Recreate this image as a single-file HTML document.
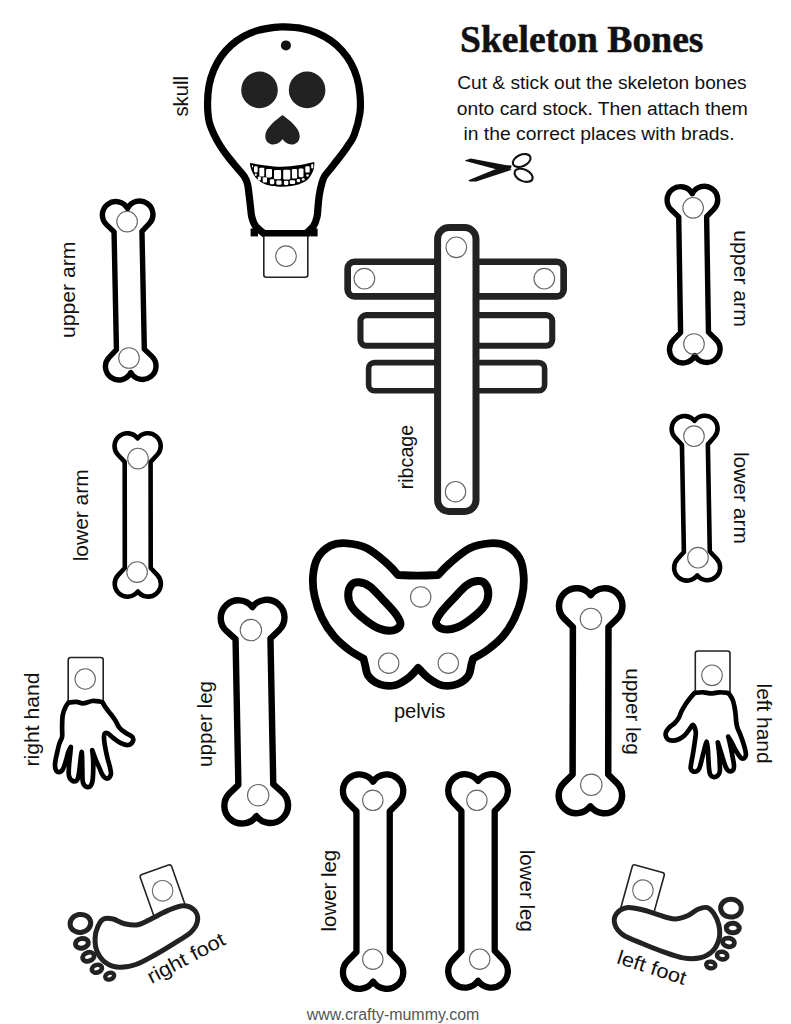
<!DOCTYPE html>
<html><head><meta charset="utf-8"><title>Skeleton Bones</title>
<style>
html,body{margin:0;padding:0;background:#fff;}
body{width:791px;height:1024px;overflow:hidden;}
svg{display:block;font-family:"Liberation Sans",sans-serif;}
</style></head>
<body>
<svg width="791" height="1024" viewBox="0 0 791 1024">
<rect width="791" height="1024" fill="#fff"/>
<text x="460" y="52" font-family="Liberation Serif" font-weight="bold" font-size="37" textLength="243.5" lengthAdjust="spacingAndGlyphs" fill="#111" stroke="#111" stroke-width="0.5">Skeleton Bones</text>
<g transform="translate(457.2,89) rotate(0)"><text x="0" y="0" textLength="289.5" lengthAdjust="spacingAndGlyphs" font-size="18" fill="#111">Cut &amp; stick out the skeleton bones</text></g>
<g transform="translate(456.8,114.6) rotate(0)"><text x="0" y="0" textLength="291" lengthAdjust="spacingAndGlyphs" font-size="18" fill="#111">onto card stock. Then attach them</text></g>
<g transform="translate(463.5,139.5) rotate(0)"><text x="0" y="0" textLength="271.1" lengthAdjust="spacingAndGlyphs" font-size="18" fill="#111">in the correct places with brads.</text></g>
<g fill="#111"><path d="M465.2,160.2 L470.8,158.6 L506.6,165.2 L511.6,165.4 L511,168.7 L496.1,169.2 L465.3,160.9 Z"/><path d="M468.4,180.3 L495.2,169.2 L507.5,167.8 L511.6,169.8 L506.6,171.6 L476.2,181.4 L469.6,181.4 Z"/></g><ellipse cx="521.7" cy="160.5" rx="9.4" ry="5.7" transform="rotate(-24 521.7 160.5)" fill="none" stroke="#111" stroke-width="2.1"/><ellipse cx="523.6" cy="175.3" rx="9.6" ry="5.8" transform="rotate(24 523.6 175.3)" fill="none" stroke="#111" stroke-width="2.1"/>
<path d="M283.94,26.97 C288.52,27.16 296.35,27.49 301.9,28.51 C307.46,29.53 312.47,31.08 317.28,33.08 C322.09,35.08 326.62,37.6 330.75,40.52 C334.88,43.44 338.7,46.86 342.04,50.61 C345.39,54.36 348.37,58.55 350.85,63.03 C353.32,67.51 355.36,72.34 356.88,77.47 C358.39,82.6 359.43,87.92 359.94,93.82 C360.46,99.72 360.9,106.02 359.94,112.88 C358.99,119.74 356.29,129.41 354.2,135 C352.11,140.59 349.92,142.6 347.4,146.4 C344.88,150.2 341.97,154.02 339.1,157.8 C336.23,161.58 332.67,165.95 330.2,169.1 C327.73,172.25 325.73,174.17 324.3,176.7 C322.87,179.23 322.43,181.25 321.6,184.3 C320.77,187.35 319.9,191.22 319.3,195 C318.7,198.78 318.38,203.33 318,207 C317.62,210.67 317.75,213.83 317,217 C316.25,220.17 315.33,223.25 313.5,226 C311.67,228.75 306,233.5 306,233.5 C306,233.5 264,233.5 264,233.5 C264,233.5 257.53,228.75 255.5,226 C253.47,223.25 252.63,220.17 251.8,217 C250.97,213.83 250.95,210.67 250.5,207 C250.05,203.33 249.58,198.78 249.1,195 C248.62,191.22 248.38,187.35 247.6,184.3 C246.82,181.25 245.97,179.23 244.4,176.7 C242.83,174.17 240.8,172.25 238.2,169.1 C235.6,165.95 231.73,161.58 228.8,157.8 C225.87,154.02 223.02,150.2 220.6,146.4 C218.18,142.6 216.22,139.18 214.3,135 C212.38,130.82 210.21,126.58 209.09,121.31 C207.96,116.03 207.55,109.34 207.55,103.35 C207.55,97.36 208.07,90.95 209.09,85.39 C210.11,79.83 211.66,74.82 213.66,70.02 C215.66,65.21 218.18,60.67 221.1,56.55 C224.03,52.42 227.44,48.6 231.19,45.25 C234.94,41.9 239.14,38.93 243.61,36.45 C248.09,33.98 252.93,31.94 258.06,30.42 C263.19,28.91 270.1,27.93 274.41,27.36 C278.72,26.78 279.36,26.78 283.94,26.97 Z" fill="#fff" stroke="#000" stroke-width="7.2" stroke-linejoin="round"/>
<rect x="250.6" y="228.5" width="7.4" height="7.9" fill="#000"/><rect x="310.2" y="228.5" width="7.4" height="7.9" fill="#000"/>
<rect x="263.8" y="233" width="44" height="44.2" rx="2.5" fill="#fff" stroke="#222" stroke-width="1.6"/>
<path d="M262,233.5 L310,233.5" stroke="#000" stroke-width="5.8"/>
<circle cx="286" cy="256.2" r="10.3" fill="none" stroke="#666" stroke-width="1.1"/>
<circle cx="285.9" cy="45.4" r="5" fill="#111"/>
<circle cx="259.5" cy="89.9" r="18.3" fill="#222"/>
<circle cx="307.1" cy="89.9" r="18.3" fill="#222"/>
<path d="M282.5,115 C276,120 265.5,127.5 265.3,136 C265.2,142 269.5,144.6 273.5,144.5 C277,144.4 281,142 282.5,139 C284,142 288,144.4 291.5,144.5 C295.5,144.6 299.8,142 299.7,136 C299.5,127.5 289,120 282.5,115 Z" fill="#222"/>
<path d="M250,163 C250,163 260.67,164.87 266,165.5 C271.33,166.13 276.67,166.83 282,166.8 C287.33,166.77 292.62,166.1 298,165.3 C303.38,164.5 314.3,162 314.3,162 C314.3,162 314.43,166.32 313.9,168.5 C313.37,170.68 312.32,173.08 311.1,175.1 C309.88,177.12 308.57,179.08 306.6,180.6 C304.63,182.12 301.88,183.3 299.3,184.2 C296.72,185.1 293.98,185.57 291.1,186 C288.22,186.43 285.18,186.8 282,186.8 C278.82,186.8 275.17,186.6 272,186 C268.83,185.4 265.58,184.45 263,183.2 C260.42,181.95 258.25,180.28 256.5,178.5 C254.75,176.72 253.5,174.42 252.5,172.5 C251.5,170.58 250.92,168.58 250.5,167 C250.08,165.42 250,163 250,163 Z" fill="#000"/>
<rect x="252" y="164.9" width="1.1" height="2.7" rx="1.1" fill="#fff"/>
<rect x="254" y="166.3" width="3.7" height="6.1" rx="1.1" fill="#fff"/>
<rect x="259.3" y="167.7" width="5" height="8.8" rx="1.1" fill="#fff"/>
<rect x="266.1" y="169" width="5.9" height="8.4" rx="1.1" fill="#fff"/>
<rect x="274" y="169.9" width="7.1" height="9.3" rx="1.1" fill="#fff"/>
<rect x="283.2" y="169.8" width="7.1" height="9.7" rx="1.1" fill="#fff"/>
<rect x="291.9" y="169.1" width="5.2" height="9.5" rx="1.1" fill="#fff"/>
<rect x="298.7" y="168.4" width="4.8" height="8.8" rx="1.1" fill="#fff"/>
<rect x="305.3" y="166.3" width="4.4" height="6.3" rx="1.1" fill="#fff"/>
<rect x="311.2" y="164.1" width="2.1" height="4.4" rx="1.1" fill="#fff"/>
<rect x="254.9" y="173.6" width="1.9" height="2.4" rx="1.1" fill="#fff"/>
<rect x="257.9" y="176.5" width="3" height="4.1" rx="1.1" fill="#fff"/>
<rect x="262.7" y="177.2" width="4.3" height="5.4" rx="1.1" fill="#fff"/>
<rect x="269.9" y="179.3" width="4.4" height="4.9" rx="1.1" fill="#fff"/>
<rect x="276.3" y="180.6" width="5.3" height="4.1" rx="1.1" fill="#fff"/>
<rect x="283.9" y="180.7" width="4.4" height="4.2" rx="1.1" fill="#fff"/>
<rect x="289.8" y="180.2" width="5.3" height="3.8" rx="1.1" fill="#fff"/>
<rect x="296.7" y="178.9" width="3.4" height="3.3" rx="1.1" fill="#fff"/>
<rect x="301.7" y="178.2" width="3" height="2.4" rx="1.1" fill="#fff"/>
<rect x="306.2" y="174.3" width="2.6" height="2.4" rx="1.1" fill="#fff"/>
<path transform="translate(127.35,198.6) rotate(-1.15)" d="M-13.95,33 L-21.37,25.58 A13.4,13.4 0 1 1 0,9.94 A13.4,13.4 0 1 1 21.37,25.58 L13.95,33 L13.95,150.84 L21.37,158.26 A13.4,13.4 0 1 1 0,173.9 A13.4,13.4 0 1 1 -21.37,158.26 L-13.95,150.84 Z" fill="#fff" stroke="#000" stroke-width="5.4" stroke-linejoin="round"/>
<circle cx="127.1" cy="221.6" r="10.3" fill="none" stroke="#666" stroke-width="1.1"/>
<circle cx="129" cy="358" r="10.3" fill="none" stroke="#666" stroke-width="1.1"/>
<path transform="translate(692.15,183.8) rotate(-0.91)" d="M-13.95,33 L-21.37,25.58 A13.4,13.4 0 1 1 0,9.94 A13.4,13.4 0 1 1 21.37,25.58 L13.95,33 L13.95,148.62 L21.37,156.05 A13.4,13.4 0 1 1 0,171.68 A13.4,13.4 0 1 1 -21.37,156.05 L-13.95,148.62 Z" fill="#fff" stroke="#000" stroke-width="5.4" stroke-linejoin="round"/>
<circle cx="693.1" cy="207.8" r="10.3" fill="none" stroke="#666" stroke-width="1.1"/>
<circle cx="694" cy="344" r="10.3" fill="none" stroke="#666" stroke-width="1.1"/>
<path transform="translate(137.6,430.9) rotate(-0.07)" d="M-12.95,31 L-19.65,23.85 A12.8,12.8 0 1 1 0,7.5 A12.8,12.8 0 1 1 19.65,23.85 L12.95,31 L12.95,137.1 L19.65,144.25 A12.8,12.8 0 1 1 0,160.6 A12.8,12.8 0 1 1 -19.65,144.25 L-12.95,137.1 Z" fill="#fff" stroke="#000" stroke-width="4.6" stroke-linejoin="round"/>
<circle cx="138" cy="458.6" r="10.3" fill="none" stroke="#666" stroke-width="1.1"/>
<circle cx="137.1" cy="572.1" r="10.3" fill="none" stroke="#666" stroke-width="1.1"/>
<path transform="translate(694.35,413.6) rotate(-1.03)" d="M-12.95,31 L-19.59,23.74 A12.8,12.8 0 1 1 0,7.3 A12.8,12.8 0 1 1 19.59,23.74 L12.95,31 L12.95,138.13 L19.59,145.39 A12.8,12.8 0 1 1 0,161.83 A12.8,12.8 0 1 1 -19.59,145.39 L-12.95,138.13 Z" fill="#fff" stroke="#000" stroke-width="4.6" stroke-linejoin="round"/>
<circle cx="694" cy="436.2" r="10.3" fill="none" stroke="#666" stroke-width="1.1"/>
<circle cx="698" cy="557.7" r="10.3" fill="none" stroke="#666" stroke-width="1.1"/>
<path transform="translate(252.2,596.8) rotate(-1.1)" d="M-17.45,42 L-26.22,33.9 A17.7,17.7 0 1 1 0,10.33 A17.7,17.7 0 1 1 26.22,33.9 L17.45,42 L17.45,187.74 L26.22,195.84 A17.7,17.7 0 1 1 0,219.41 A17.7,17.7 0 1 1 -26.22,195.84 L-17.45,187.74 Z" fill="#fff" stroke="#000" stroke-width="6.4" stroke-linejoin="round"/>
<circle cx="250.9" cy="630.1" r="10.7" fill="none" stroke="#666" stroke-width="1.1"/>
<circle cx="258.2" cy="795.2" r="10.7" fill="none" stroke="#666" stroke-width="1.1"/>
<path transform="translate(590.75,585) rotate(0.1)" d="M-17.8,42 L-26.4,33.63 A17.7,17.7 0 1 1 0,10.18 A17.7,17.7 0 1 1 26.4,33.63 L17.8,42 L17.8,189.5 L26.4,197.87 A17.7,17.7 0 1 1 0,221.32 A17.7,17.7 0 1 1 -26.4,197.87 L-17.8,189.5 Z" fill="#fff" stroke="#000" stroke-width="6.5" stroke-linejoin="round"/>
<circle cx="590.9" cy="618.9" r="10.7" fill="none" stroke="#666" stroke-width="1.1"/>
<circle cx="591.3" cy="784.8" r="10.7" fill="none" stroke="#666" stroke-width="1.1"/>
<path transform="translate(373.1,771.3) rotate(-0)" d="M-16.65,40 L-25.34,31.34 A16.5,16.5 0 1 1 0,10.45 A16.5,16.5 0 1 1 25.34,31.34 L16.65,40 L16.65,180.7 L25.34,189.36 A16.5,16.5 0 1 1 0,210.25 A16.5,16.5 0 1 1 -25.34,189.36 L-16.65,180.7 Z" fill="#fff" stroke="#000" stroke-width="6.3" stroke-linejoin="round"/>
<circle cx="372.8" cy="800.3" r="10.2" fill="none" stroke="#666" stroke-width="1.1"/>
<circle cx="372.8" cy="959.2" r="10.2" fill="none" stroke="#666" stroke-width="1.1"/>
<path transform="translate(478.05,771) rotate(-0)" d="M-16.65,40 L-25.23,31.1 A16.5,16.5 0 1 1 0,9.95 A16.5,16.5 0 1 1 25.23,31.1 L16.65,40 L16.65,179.8 L25.23,188.7 A16.5,16.5 0 1 1 0,209.85 A16.5,16.5 0 1 1 -25.23,188.7 L-16.65,179.8 Z" fill="#fff" stroke="#000" stroke-width="6.3" stroke-linejoin="round"/>
<circle cx="476.9" cy="800.3" r="10.2" fill="none" stroke="#666" stroke-width="1.1"/>
<circle cx="479.7" cy="959.2" r="10.2" fill="none" stroke="#666" stroke-width="1.1"/>
<rect x="347.65" y="261.75" width="216" height="34.7" rx="7" fill="#fff" stroke="#222" stroke-width="6.7"/>
<rect x="360.45" y="315.15" width="191.8" height="30.6" rx="6" fill="#fff" stroke="#222" stroke-width="6.1"/>
<rect x="368.6" y="362.6" width="176" height="28.2" rx="5.8" fill="#fff" stroke="#222" stroke-width="5.6"/>
<rect x="437.6" y="227.5" width="38.4" height="284" rx="11.5" fill="#fff" stroke="#222" stroke-width="7"/>
<circle cx="456.3" cy="247.3" r="10.3" fill="none" stroke="#666" stroke-width="1.1"/>
<circle cx="364.4" cy="278.7" r="10.3" fill="none" stroke="#666" stroke-width="1.1"/>
<circle cx="544.3" cy="278.7" r="10.3" fill="none" stroke="#666" stroke-width="1.1"/>
<circle cx="455.5" cy="491.7" r="10.2" fill="none" stroke="#666" stroke-width="1.1"/>
<path d="M398,575 C398,575 411.3,575.6 418,575.6 C424.7,575.6 438.2,575 438.2,575 C438.2,575 444.55,567.65 449.8,563.2 C455.05,558.75 463.05,551.62 469.7,548.3 C476.35,544.98 483.6,543.72 489.7,543.3 C495.8,542.88 501.33,543.32 506.3,545.8 C511.27,548.28 516.6,553.08 519.5,558.2 C522.4,563.32 523.28,570.13 523.7,576.5 C524.12,582.87 523.52,589.48 522,596.4 C520.48,603.32 517.78,611.35 514.6,618 C511.42,624.65 507.33,631.05 502.9,636.3 C498.47,641.55 492.98,645.77 488,649.5 C483.02,653.23 473,658.7 473,658.7 C473,658.7 472.22,661.6 471.4,664.5 C470.58,667.4 470.58,672.78 468.1,676.1 C465.62,679.42 460.93,682.88 456.5,684.4 C452.07,685.92 446.22,686.3 441.5,685.2 C436.78,684.1 432.08,680.7 428.2,677.8 C424.32,674.9 418.2,667.8 418.2,667.8 C418.2,667.8 412.37,674.9 408.5,677.8 C404.63,680.7 399.75,684.1 395,685.2 C390.25,686.3 384.42,685.92 380,684.4 C375.58,682.88 371,679.42 368.5,676.1 C366,672.78 365.82,667.4 365,664.5 C364.18,661.6 363.6,658.7 363.6,658.7 C363.6,658.7 353.43,653.23 348.5,649.5 C343.57,645.77 338.42,641.55 334,636.3 C329.58,631.05 325.23,624.65 322,618 C318.77,611.35 316.1,603.32 314.6,596.4 C313.1,589.48 312.52,582.87 313,576.5 C313.48,570.13 314.58,563.32 317.5,558.2 C320.42,553.08 325.58,548.28 330.5,545.8 C335.42,543.32 340.92,542.88 347,543.3 C353.08,543.72 360.37,544.98 367,548.3 C373.63,551.62 381.63,558.75 386.8,563.2 C391.97,567.65 398,575 398,575 Z" fill="#fff" stroke="#000" stroke-width="7.8" stroke-linejoin="round"/>
<path d="M359,582.3 C362.05,582.57 365.8,583.5 369.8,586.4 C373.8,589.3 378.58,594.98 383,599.7 C387.42,604.42 393.4,610.55 396.3,614.7 C399.2,618.85 400.95,621.98 400.4,624.6 C399.85,627.22 396.45,629.7 393,630.4 C389.55,631.1 384.4,630.6 379.7,628.8 C375,627 369.5,623.33 364.8,619.6 C360.1,615.87 354.27,610.53 351.5,606.4 C348.73,602.27 348.2,598.4 348.2,594.8 C348.2,591.2 349.7,586.88 351.5,584.8 C353.3,582.72 355.95,582.03 359,582.3 Z" fill="#fff" stroke="#000" stroke-width="8" stroke-linejoin="round"/>
<path d="M477.5,581.1 C474.45,581.37 470.7,582.3 466.7,585.2 C462.7,588.1 457.92,593.78 453.5,598.5 C449.08,603.22 443.1,609.35 440.2,613.5 C437.3,617.65 435.55,620.78 436.1,623.4 C436.65,626.02 440.05,628.5 443.5,629.2 C446.95,629.9 452.1,629.4 456.8,627.6 C461.5,625.8 467,622.13 471.7,618.4 C476.4,614.67 482.23,609.33 485,605.2 C487.77,601.07 488.3,597.2 488.3,593.6 C488.3,590 486.8,585.68 485,583.6 C483.2,581.52 480.55,580.83 477.5,581.1 Z" fill="#fff" stroke="#000" stroke-width="8" stroke-linejoin="round"/>
<circle cx="420.7" cy="596.9" r="10.2" fill="none" stroke="#666" stroke-width="1.1"/>
<circle cx="388.7" cy="663.2" r="10.2" fill="none" stroke="#666" stroke-width="1.1"/>
<circle cx="448.3" cy="663.2" r="10.2" fill="none" stroke="#666" stroke-width="1.1"/>
<rect x="68.2" y="657.5" width="35" height="46" rx="2.5" fill="#fff" stroke="#222" stroke-width="1.6"/>
<path d="M68.4,702.6 C68.4,702.6 66.15,705.58 65.2,707.7 C64.25,709.82 63.22,712.13 62.7,715.3 C62.18,718.47 62.2,723.12 62.1,726.7 C62,730.28 62.53,734.07 62.1,736.8 C61.67,739.53 60.35,740.37 59.5,743.1 C58.65,745.83 57.73,749.83 57,753.2 C56.27,756.57 55.32,760.57 55.1,763.3 C54.88,766.03 55.07,768.12 55.7,769.6 C56.33,771.08 57.73,772.2 58.9,772.2 C60.07,772.2 61.53,771.5 62.7,769.6 C63.87,767.7 64.95,763.75 65.9,760.8 C66.85,757.85 67.57,754.22 68.4,751.9 C69.23,749.58 70.9,746.9 70.9,746.9 C70.9,746.9 70.62,750.03 70.3,753.2 C69.98,756.37 69.22,762.1 69,765.9 C68.78,769.7 68.37,773.48 69,776 C69.63,778.52 71.43,780.37 72.8,781 C74.17,781.63 76.15,781.27 77.2,779.8 C78.25,778.33 78.47,776.22 79.1,772.2 C79.73,768.18 80.57,759.08 81,755.7 C81.43,752.32 81.7,751.9 81.7,751.9 C81.7,751.9 81.98,753.62 82.1,757 C82.22,760.38 82.27,767.98 82.4,772.2 C82.53,776.42 82.2,779.85 82.9,782.3 C83.6,784.75 85.28,786.35 86.6,786.9 C87.92,787.45 89.77,787 90.8,785.6 C91.83,784.2 92.4,782.63 92.8,778.5 C93.2,774.37 93.3,765.53 93.2,760.8 C93.1,756.07 92.2,750.1 92.2,750.1 C92.2,750.1 93.97,755.25 95.2,758.3 C96.43,761.35 98.27,765.45 99.6,768.4 C100.93,771.35 101.88,774.32 103.2,776 C104.52,777.68 106.23,778.72 107.5,778.5 C108.77,778.28 110.35,776.38 110.8,774.7 C111.25,773.02 110.8,771.35 110.2,768.4 C109.6,765.45 108.08,760.8 107.2,757 C106.32,753.2 105.43,748.77 104.9,745.6 C104.37,742.43 104.05,740 104,738 C103.95,736 104.02,734.4 104.6,733.6 C105.18,732.8 106.05,732.47 107.5,733.2 C108.95,733.93 111.07,736.35 113.3,738 C115.53,739.65 118.38,741.93 120.9,743.1 C123.42,744.27 126.4,745.32 128.4,745 C130.4,744.68 132.27,742.57 132.9,741.2 C133.53,739.83 133.37,738.17 132.2,736.8 C131.03,735.43 128,734.48 125.9,733 C123.8,731.52 121.38,730.02 119.6,727.9 C117.82,725.78 116.68,722.62 115.2,720.3 C113.72,717.98 112.28,716.1 110.7,714 C109.12,711.9 107.02,709.6 105.7,707.7 C104.38,705.8 102.8,702.6 102.8,702.6 C102.8,702.6 101.37,701.77 99.6,701.5 C97.83,701.23 94.98,700.7 92.2,701 C89.42,701.3 85.53,703.17 82.9,703.3 C80.27,703.43 78.82,701.92 76.4,701.8 C73.98,701.68 68.4,702.6 68.4,702.6 Z" fill="#fff" stroke="#000" stroke-width="4.7" stroke-linejoin="round"/>
<circle cx="85.2" cy="679" r="10.2" fill="none" stroke="#666" stroke-width="1.1"/>
<rect x="695.3" y="651" width="34.7" height="44" rx="2.5" fill="#fff" stroke="#222" stroke-width="1.6"/>
<path d="M694.7,692.84 C694.7,692.84 691.66,696.07 690.15,697.96 C688.63,699.86 687.02,702.04 685.6,704.22 C684.18,706.4 682.75,708.77 681.62,711.05 C680.48,713.32 679.91,715.88 678.77,717.87 C677.63,719.86 676.4,721.38 674.79,722.99 C673.18,724.6 670.52,726.12 669.1,727.54 C667.68,728.96 666.83,730.2 666.26,731.52 C665.69,732.85 665.4,734.18 665.69,735.51 C665.97,736.83 666.83,738.63 667.96,739.49 C669.1,740.34 670.81,740.63 672.51,740.63 C674.22,740.63 676.21,740.34 678.2,739.49 C680.19,738.63 682.66,737.12 684.46,735.51 C686.26,733.89 687.78,731.43 689.01,729.82 C690.24,728.21 691.15,726.63 691.85,725.84 C692.56,725.04 692.75,724.76 693.22,725.04 C693.69,725.32 694.26,726.18 694.7,727.54 C695.13,728.91 695.84,730.77 695.84,733.23 C695.84,735.7 695.17,738.92 694.7,742.33 C694.22,745.75 693.56,750.3 692.99,753.71 C692.42,757.12 691.66,760.35 691.29,762.81 C690.91,765.27 690.43,767.08 690.72,768.5 C691,769.92 692.04,770.87 692.99,771.34 C693.94,771.82 695.36,771.82 696.41,771.34 C697.45,770.87 698.4,770.3 699.25,768.5 C700.1,766.7 700.77,763.38 701.52,760.53 C702.28,757.69 703.14,754.09 703.8,751.43 C704.46,748.78 705.03,746.22 705.51,744.61 C705.98,743 706.64,741.76 706.64,741.76 C706.64,741.76 707.5,745.27 707.78,748.02 C708.07,750.77 708.16,755.04 708.35,758.26 C708.54,761.48 708.63,764.71 708.92,767.36 C709.2,770.02 709.3,772.57 710.06,774.19 C710.82,775.8 712.24,776.75 713.47,777.03 C714.7,777.32 716.41,776.75 717.45,775.89 C718.49,775.04 719.35,774.09 719.73,771.91 C720.11,769.73 719.82,765.84 719.73,762.81 C719.63,759.78 719.4,756.55 719.16,753.71 C718.91,750.86 718.48,747.64 718.25,745.75 C718.02,743.85 717.79,742.33 717.79,742.33 C717.79,742.33 719.4,747.45 720.3,750.3 C721.19,753.14 722.29,756.74 723.14,759.4 C723.99,762.05 724.66,764.42 725.42,766.22 C726.17,768.02 726.84,769.35 727.69,770.2 C728.54,771.06 729.59,771.44 730.53,771.34 C731.48,771.25 732.81,770.68 733.38,769.64 C733.95,768.59 734.04,766.98 733.95,765.09 C733.85,763.19 733.28,760.91 732.81,758.26 C732.34,755.6 731.67,752 731.1,749.16 C730.53,746.31 729.87,743.28 729.4,741.19 C728.92,739.11 728.26,736.64 728.26,736.64 C728.26,736.64 730.53,740.25 731.67,742.33 C732.81,744.42 733.95,747.07 735.09,749.16 C736.22,751.24 737.46,753.33 738.5,754.85 C739.54,756.36 740.39,757.69 741.34,758.26 C742.29,758.83 743.43,758.73 744.19,758.26 C744.95,757.79 745.7,756.74 745.89,755.42 C746.08,754.09 745.8,752.48 745.32,750.3 C744.85,748.12 743.9,744.99 743.05,742.33 C742.2,739.68 741.15,736.83 740.2,734.37 C739.26,731.9 738.02,729.63 737.36,727.54 C736.7,725.46 736.51,723.94 736.22,721.85 C735.94,719.77 735.94,717.49 735.65,715.03 C735.37,712.56 734.99,709.53 734.52,707.06 C734.04,704.6 733.57,702.23 732.81,700.24 C732.05,698.25 730.88,696.35 729.97,695.12 C729.06,693.89 727.35,692.84 727.35,692.84 C727.35,692.84 721.85,692.18 719.16,692.28 C716.47,692.37 713.85,693.41 711.19,693.41 C708.54,693.41 705.98,692.37 703.23,692.28 C700.48,692.18 694.7,692.84 694.7,692.84 Z" fill="#fff" stroke="#000" stroke-width="4.7" stroke-linejoin="round"/>
<circle cx="712" cy="675.3" r="10.3" fill="none" stroke="#666" stroke-width="1.1"/>
<g transform="translate(162.6,890.8) rotate(-19.5)"><rect x="-16.6" y="-22.3" width="33.2" height="52" rx="2.5" fill="#fff" stroke="#222" stroke-width="1.6"/><circle cx="0" cy="0" r="10.3" fill="none" stroke="#666" stroke-width="1.1"/></g>
<path d="M97.9,926.5 C96.48,929.65 95.25,933.78 95.1,937.9 C94.95,942.02 95.27,947.08 97,951.2 C98.73,955.32 101.87,959.92 105.5,962.6 C109.13,965.28 113.73,966.98 118.8,967.3 C123.87,967.62 129.9,966.55 135.9,964.5 C141.9,962.45 148.48,958.48 154.8,955 C161.12,951.52 167.78,947.4 173.8,943.6 C179.82,939.8 186.95,935.98 190.9,932.2 C194.85,928.42 196.88,924.53 197.5,920.9 C198.12,917.27 196.97,912.93 194.6,910.4 C192.23,907.87 187.72,905.7 183.3,905.7 C178.88,905.7 173.17,908.35 168.1,910.4 C163.03,912.45 157.95,915.62 152.9,918 C147.85,920.38 142.53,923.75 137.8,924.7 C133.07,925.65 128.62,924.65 124.5,923.7 C120.38,922.75 116.58,919.78 113.1,919 C109.62,918.22 106.13,917.75 103.6,919 C101.07,920.25 99.32,923.35 97.9,926.5 Z" fill="#fff" stroke="#222" stroke-width="5" stroke-linejoin="round"/><ellipse cx="80.4" cy="923.4" rx="10.35" ry="8.95" transform="rotate(-10 80.4 923.4)" fill="none" stroke="#222" stroke-width="5"/><ellipse cx="81.9" cy="943.3" rx="6.5" ry="4.8" transform="rotate(-12 81.9 943.3)" fill="none" stroke="#222" stroke-width="5"/><ellipse cx="88.4" cy="956.8" rx="5.9" ry="4.3" transform="rotate(-20 88.4 956.8)" fill="none" stroke="#222" stroke-width="4.8"/><ellipse cx="96.9" cy="968.7" rx="5.2" ry="3.8" transform="rotate(-20 96.9 968.7)" fill="none" stroke="#222" stroke-width="4.6"/><ellipse cx="109.7" cy="976.1" rx="4.6" ry="3.3" transform="rotate(-20 109.7 976.1)" fill="none" stroke="#222" stroke-width="4.4"/>
<g transform="translate(642.9,890.2) rotate(15.5)"><rect x="-16.6" y="-22.3" width="33.2" height="52" rx="2.5" fill="#fff" stroke="#222" stroke-width="1.6"/><circle cx="0" cy="0" r="10.3" fill="none" stroke="#666" stroke-width="1.1"/></g>
<g transform="translate(668.5,932.4) rotate(-9.5) scale(-1,1) translate(-146,-937)"><path d="M97.9,926.5 C96.48,929.65 95.25,933.78 95.1,937.9 C94.95,942.02 95.27,947.08 97,951.2 C98.73,955.32 101.87,959.92 105.5,962.6 C109.13,965.28 113.73,966.98 118.8,967.3 C123.87,967.62 129.9,966.55 135.9,964.5 C141.9,962.45 148.48,958.48 154.8,955 C161.12,951.52 167.78,947.4 173.8,943.6 C179.82,939.8 186.95,935.98 190.9,932.2 C194.85,928.42 196.88,924.53 197.5,920.9 C198.12,917.27 196.97,912.93 194.6,910.4 C192.23,907.87 187.72,905.7 183.3,905.7 C178.88,905.7 173.17,908.35 168.1,910.4 C163.03,912.45 157.95,915.62 152.9,918 C147.85,920.38 142.53,923.75 137.8,924.7 C133.07,925.65 128.62,924.65 124.5,923.7 C120.38,922.75 116.58,919.78 113.1,919 C109.62,918.22 106.13,917.75 103.6,919 C101.07,920.25 99.32,923.35 97.9,926.5 Z" fill="#fff" stroke="#222" stroke-width="5" stroke-linejoin="round"/><ellipse cx="80.4" cy="923.4" rx="10.35" ry="8.95" transform="rotate(-10 80.4 923.4)" fill="none" stroke="#222" stroke-width="5"/><ellipse cx="81.9" cy="943.3" rx="6.5" ry="4.8" transform="rotate(-12 81.9 943.3)" fill="none" stroke="#222" stroke-width="5"/><ellipse cx="88.4" cy="956.8" rx="5.9" ry="4.3" transform="rotate(-20 88.4 956.8)" fill="none" stroke="#222" stroke-width="4.8"/><ellipse cx="96.9" cy="968.7" rx="5.2" ry="3.8" transform="rotate(-20 96.9 968.7)" fill="none" stroke="#222" stroke-width="4.6"/><ellipse cx="109.7" cy="976.1" rx="4.6" ry="3.3" transform="rotate(-20 109.7 976.1)" fill="none" stroke="#222" stroke-width="4.4"/></g>
<g transform="translate(188.2,116.5) rotate(-90)"><text x="0" y="0" textLength="40.5" lengthAdjust="spacingAndGlyphs" font-size="20" fill="#111">skull</text></g>
<g transform="translate(75.4,338) rotate(-90)"><text x="0" y="0" textLength="96.5" lengthAdjust="spacingAndGlyphs" font-size="20" fill="#111">upper arm</text></g>
<g transform="translate(734.2,230.3) rotate(90)"><text x="0" y="0" textLength="96.5" lengthAdjust="spacingAndGlyphs" font-size="20" fill="#111">upper arm</text></g>
<g transform="translate(87.5,561.3) rotate(-90)"><text x="0" y="0" textLength="92" lengthAdjust="spacingAndGlyphs" font-size="20" fill="#111">lower arm</text></g>
<g transform="translate(733.6,451.9) rotate(90)"><text x="0" y="0" textLength="92" lengthAdjust="spacingAndGlyphs" font-size="20" fill="#111">lower arm</text></g>
<g transform="translate(413.2,489.3) rotate(-90)"><text x="0" y="0" textLength="64.5" lengthAdjust="spacingAndGlyphs" font-size="20" fill="#111">ribcage</text></g>
<g transform="translate(393.9,717.8) rotate(0)"><text x="0" y="0" textLength="51.5" lengthAdjust="spacingAndGlyphs" font-size="20" fill="#111">pelvis</text></g>
<g transform="translate(38.7,766.5) rotate(-90)"><text x="0" y="0" textLength="94" lengthAdjust="spacingAndGlyphs" font-size="20" fill="#111">right hand</text></g>
<g transform="translate(757.1,683.5) rotate(90)"><text x="0" y="0" textLength="80" lengthAdjust="spacingAndGlyphs" font-size="20" fill="#111">left hand</text></g>
<g transform="translate(212.1,766.9) rotate(-90)"><text x="0" y="0" textLength="86" lengthAdjust="spacingAndGlyphs" font-size="20" fill="#111">upper leg</text></g>
<g transform="translate(626.2,668.3) rotate(90)"><text x="0" y="0" textLength="86.5" lengthAdjust="spacingAndGlyphs" font-size="20" fill="#111">upper leg</text></g>
<g transform="translate(335.5,931.4) rotate(-90)"><text x="0" y="0" textLength="81.5" lengthAdjust="spacingAndGlyphs" font-size="20" fill="#111">lower leg</text></g>
<g transform="translate(519.8,849.8) rotate(90)"><text x="0" y="0" textLength="82" lengthAdjust="spacingAndGlyphs" font-size="20" fill="#111">lower leg</text></g>
<g transform="translate(151.5,984) rotate(-28)"><text x="0" y="0" textLength="85.5" lengthAdjust="spacingAndGlyphs" font-size="20" fill="#111">right foot</text></g>
<g transform="translate(615.8,963) rotate(18)"><text x="0" y="0" textLength="71.5" lengthAdjust="spacingAndGlyphs" font-size="20" fill="#111">left foot</text></g>
<g transform="translate(306.8,1020.1) rotate(0)"><text x="0" y="0" textLength="172.5" lengthAdjust="spacingAndGlyphs" font-size="16" fill="#555">www.crafty-mummy.com</text></g>
</svg>
</body></html>
